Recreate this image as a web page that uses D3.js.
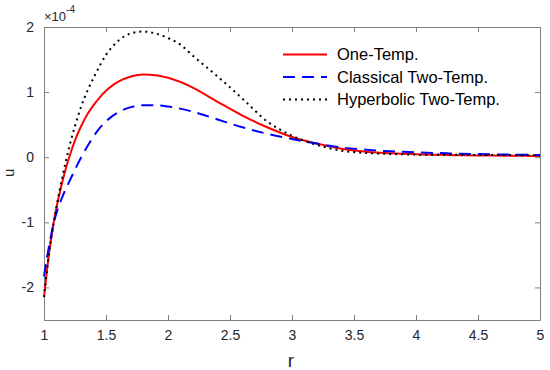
<!DOCTYPE html>
<html>
<head>
<meta charset="utf-8">
<script src="https://cdn.jsdelivr.net/npm/d3@7"></script>
<style>
  body { margin: 0; background: #fff; }
  svg { display: block; font-family: Arial, "Liberation Sans", sans-serif; }
</style>
</head>
<body>
<script>
// values, u in units of 1e-4
const rOne = [1.0, 1.025, 1.05, 1.075, 1.1, 1.125, 1.15, 1.175, 1.2, 1.25, 1.3, 1.35, 1.4, 1.45, 1.5, 1.55, 1.6, 1.7, 1.8, 1.9, 2.0, 2.2, 2.4, 2.6, 2.8, 3.0, 3.2, 3.4, 3.6, 3.8, 4.0, 4.25, 4.5, 4.75, 5.0];
const uOne = [-2.15, -1.72, -1.35, -1.04, -0.78, -0.56, -0.36, -0.18, -0.02, 0.26, 0.48, 0.66, 0.8, 0.92, 1.02, 1.1, 1.16, 1.24, 1.27, 1.26, 1.22, 1.07, 0.85, 0.64, 0.46, 0.31, 0.21, 0.13, 0.085, 0.06, 0.045, 0.035, 0.028, 0.022, 0.02];

const rClassical = [1.0, 1.025, 1.05, 1.075, 1.1, 1.125, 1.15, 1.175, 1.2, 1.25, 1.3, 1.35, 1.4, 1.45, 1.5, 1.6, 1.7, 1.8, 1.9, 2.0, 2.2, 2.4, 2.6, 2.8, 3.0, 3.2, 3.4, 3.6, 3.8, 4.0, 4.25, 4.5, 4.75, 5.0];
const uClassical = [-1.83, -1.53, -1.27, -1.04, -0.86, -0.72, -0.6, -0.49, -0.39, -0.19, 0.0, 0.17, 0.32, 0.45, 0.55, 0.69, 0.77, 0.8, 0.8, 0.78, 0.7, 0.58, 0.46, 0.36, 0.28, 0.21, 0.15, 0.115, 0.09, 0.075, 0.06, 0.048, 0.04, 0.035];

const rHyper = [1.0, 1.025, 1.05, 1.075, 1.1, 1.125, 1.15, 1.175, 1.2, 1.25, 1.3, 1.35, 1.4, 1.5, 1.6, 1.7, 1.8, 1.9, 2.0, 2.1, 2.2, 2.4, 2.6, 2.8, 3.0, 3.2, 3.4, 3.6, 3.8, 4.0, 4.5, 5.0];
const uHyper = [-2.15, -1.72, -1.35, -1.04, -0.77, -0.52, -0.29, -0.07, 0.13, 0.48, 0.78, 1.02, 1.22, 1.57, 1.79, 1.9, 1.93, 1.9, 1.83, 1.73, 1.56, 1.24, 0.9, 0.55, 0.33, 0.19, 0.1, 0.065, 0.05, 0.04, 0.035, 0.03];

const legendLabels = ["One-Temp.", "Classical Two-Temp.", "Hyperbolic Two-Temp."];
const xTicks = [1, 1.5, 2, 2.5, 3, 3.5, 4, 4.5, 5];
const yTicks = [-2, -1, 0, 1, 2];

const width = 550, height = 370;
const margin = {top: 27, right: 10, bottom: 50, left: 44};
const axisColor = "#808080", textColor = "#262626";

const svg = d3.select("body").append("svg")
    .attr("width", width)
    .attr("height", height);

const x = d3.scaleLinear().domain([1, 5]).range([margin.left, width - margin.right]);
const y = d3.scaleLinear().domain([-2.5, 2]).range([height - margin.bottom, margin.top]);

// box with ticks on all four sides (matlab style)
function styleAxis(g) {
    g.selectAll(".domain").attr("stroke", axisColor);
    g.selectAll(".tick line").attr("stroke", axisColor);
    g.selectAll(".tick text").attr("fill", textColor).attr("font-size", 14);
}

const fmt = d => String(d);  // plain hyphen minus like the original

svg.append("g")
    .attr("transform", "translate(0," + y(-2.5) + ")")
    .call(d3.axisBottom(x).tickValues(xTicks).tickSize(-5).tickPadding(10).tickFormat(fmt).tickSizeOuter(0))
    .call(styleAxis);
svg.append("g")
    .attr("transform", "translate(0," + y(2) + ")")
    .call(d3.axisTop(x).tickValues(xTicks).tickSize(-5).tickFormat("").tickSizeOuter(0))
    .call(styleAxis);
svg.append("g")
    .attr("transform", "translate(" + x(1) + ",0)")
    .call(d3.axisLeft(y).tickValues(yTicks).tickSize(-5).tickPadding(10).tickFormat(fmt).tickSizeOuter(0))
    .call(styleAxis);
svg.append("g")
    .attr("transform", "translate(" + x(5) + ",0)")
    .call(d3.axisRight(y).tickValues(yTicks).tickSize(-5).tickFormat("").tickSizeOuter(0))
    .call(styleAxis);

// exponent label
const expo = svg.append("text")
    .attr("x", x(1)).attr("y", 21)
    .attr("fill", textColor).attr("font-size", 13);
expo.append("tspan").text("\u00d710");
expo.append("tspan").attr("dy", -8).attr("font-size", 10).text("-4");

// axis labels
svg.append("text")
    .attr("x", x(3) - 1).attr("y", 367)
    .attr("text-anchor", "middle")
    .attr("fill", textColor).attr("font-size", 19)
    .text("r");
svg.append("text")
    .attr("transform", "translate(14," + y(-0.24) + ") rotate(-90)")
    .attr("text-anchor", "middle")
    .attr("fill", textColor).attr("font-size", 15)
    .text("u");

const line = d3.line()
    .x(d => x(d[0]))
    .y(d => y(d[1]))
    .curve(d3.curveMonotoneX);

const series = [
    {r: rOne, u: uOne, color: "#ff0000", dash: null},
    {r: rClassical, u: uClassical, color: "#0000ff", dash: "12,7"},
    {r: rHyper, u: uHyper, color: "#000000", dash: "2,4"}
];

series.forEach(s => {
    svg.append("path")
        .datum(d3.zip(s.r, s.u))
        .attr("fill", "none")
        .attr("stroke", s.color)
        .attr("stroke-width", 2)
        .attr("stroke-dasharray", s.dash)
        .attr("d", line);
});

// legend, no box
const legend = svg.append("g").attr("transform", "translate(283,54.5)");
series.forEach((s, i) => {
    const row = legend.append("g").attr("transform", "translate(0," + (i * 22.5) + ")");
    row.append("line")
        .attr("x1", 0).attr("x2", 44)
        .attr("stroke", s.color)
        .attr("stroke-width", 2)
        .attr("stroke-dasharray", s.dash);
    row.append("text")
        .attr("x", 54).attr("dy", "0.36em")
        .attr("font-size", 16.5).attr("fill", "#000")
        .text(legendLabels[i]);
});
</script>
</body>
</html>
